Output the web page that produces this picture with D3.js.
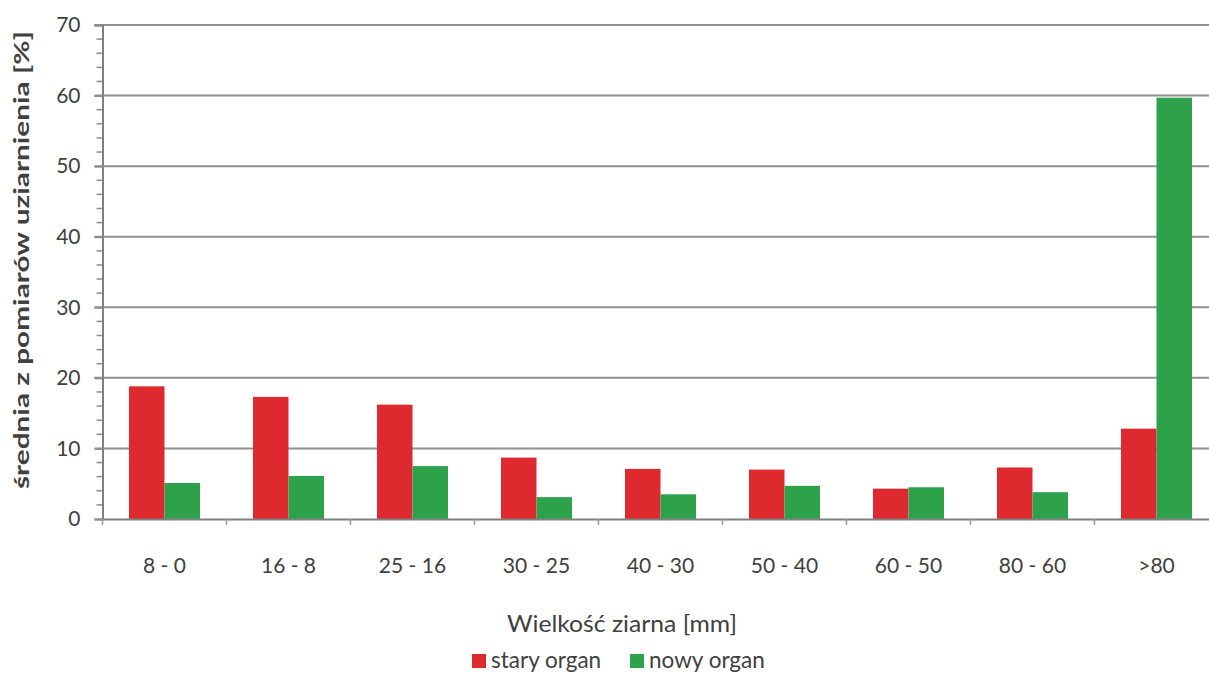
<!DOCTYPE html>
<html>
<head>
<meta charset="utf-8">
<script src="https://cdn.jsdelivr.net/npm/d3@7"></script>
<style>
  html, body { margin: 0; padding: 0; background: #fff; }
  svg { display: block; }
  text { font-family: Lato, "Open Sans", sans-serif; fill: #404040; }
</style>
</head>
<body>
<svg id="chart" width="1209" height="673"></svg>
<script>
const categories = ["8 - 0", "16 - 8", "25 - 16", "30 - 25", "40 - 30", "50 - 40", "60 - 50", "80 - 60", ">80"];
const seriesNames = ["stary organ", "nowy organ"];
const staryOrgan = [18.8, 17.3, 16.2, 8.7, 7.1, 7.0, 4.3, 7.3, 12.8];
const nowyOrgan  = [5.1, 6.1, 7.5, 3.1, 3.5, 4.7, 4.5, 3.8, 59.7];
const yTicks = [0, 10, 20, 30, 40, 50, 60, 70];
const colors = ["#de2a2e", "#2ea24b"];
const yTitle = "średnia z pomiarów uziarnienia [%]";
const xTitle = "Wielkość ziarna [mm]";

const svg = d3.select("#chart");
const mLeft = 102.5, mRight = 1218.5, mTop = 25, mBottom = 519;

const x0 = d3.scaleBand().domain(categories).range([mLeft, mRight]).padding(0);
const groupW = 71;
const x1 = d3.scaleBand().domain(seriesNames)
  .range([(x0.bandwidth() - groupW) / 2, (x0.bandwidth() + groupW) / 2]).padding(0);
const y = d3.scaleLinear().domain([0, 70]).range([mBottom, mTop]);

// gridlines
svg.append("g").selectAll("line").data(yTicks.filter(d => d > 0)).join("line")
  .attr("x1", mLeft - 8).attr("x2", 1209)
  .attr("y1", d => y(d)).attr("y2", d => y(d))
  .attr("stroke", "#8f8f8f").attr("stroke-width", 2);

// minor ticks on y axis
const minor = d3.range(0, 71, 2).filter(d => d % 10 !== 0);
svg.append("g").selectAll("line").data(minor).join("line")
  .attr("x1", mLeft - 6).attr("x2", mLeft)
  .attr("y1", d => y(d)).attr("y2", d => y(d))
  .attr("stroke", "#8f8f8f").attr("stroke-width", 1.5);

// y axis
const yAxis = svg.append("g").attr("transform", `translate(${mLeft},0)`)
  .call(d3.axisLeft(y).tickValues(yTicks).tickSize(8).tickPadding(14));
yAxis.select(".domain").attr("stroke", "#808080").attr("stroke-width", 2);
yAxis.selectAll(".tick line").attr("stroke", "#8f8f8f").attr("stroke-width", 2);
yAxis.selectAll(".tick text").style("font-size", "21px").style("font-family", "Lato, sans-serif").attr("fill", "#404040");

// bars
const data = categories.map((c, i) => ({ cat: c, vals: [staryOrgan[i], nowyOrgan[i]] }));
const groups = svg.append("g").selectAll("g").data(data).join("g")
  .attr("transform", d => `translate(${x0(d.cat)},0)`);
groups.selectAll("rect").data(d => d.vals.map((v, j) => ({ name: seriesNames[j], v, j }))).join("rect")
  .attr("x", d => x1(d.name)).attr("width", x1.bandwidth())
  .attr("y", d => y(d.v)).attr("height", d => y(0) - y(d.v))
  .attr("fill", d => colors[d.j]);

// x axis
const xAxis = svg.append("g").attr("transform", `translate(0,${mBottom})`)
  .call(d3.axisBottom(x0).tickSize(0).tickPadding(39));
xAxis.select(".domain").attr("stroke", "#808080").attr("stroke-width", 2);
xAxis.selectAll(".tick text").style("font-size", "21px").style("font-family", "Lato, sans-serif").attr("fill", "#404040");
// boundary ticks
const bounds = categories.map(c => x0(c));
svg.append("g").selectAll("line").data(bounds).join("line")
  .attr("x1", d => d).attr("x2", d => d)
  .attr("y1", mBottom).attr("y2", mBottom + 6)
  .attr("stroke", "#9a9a9a").attr("stroke-width", 1.5);

// y title
svg.append("text")
  .attr("transform", "translate(29,260) rotate(-90)")
  .attr("text-anchor", "middle")
  .attr("textLength", 458).attr("lengthAdjust", "spacingAndGlyphs")
  .style("font-size", "21px").style("font-weight", "bold")
  .attr("fill", "#3a3a3a")
  .text(yTitle);

// x title
svg.append("text")
  .attr("x", 507).attr("y", 632)
  .attr("textLength", 230).attr("lengthAdjust", "spacingAndGlyphs")
  .style("font-size", "24px")
  .attr("fill", "#404040")
  .text(xTitle);

// legend
const legendX = [472, 630];
const leg = svg.append("g").selectAll("g").data(seriesNames).join("g")
  .attr("transform", (d, i) => `translate(${legendX[i]},0)`);
leg.append("rect").attr("x", 0).attr("y", 654).attr("width", 14).attr("height", 14)
  .attr("fill", (d, i) => colors[i]);
leg.append("text").attr("x", 19).attr("y", 668)
  .style("font-size", "22.5px").attr("fill", "#404040")
  .text(d => d);
</script>
</body>
</html>
